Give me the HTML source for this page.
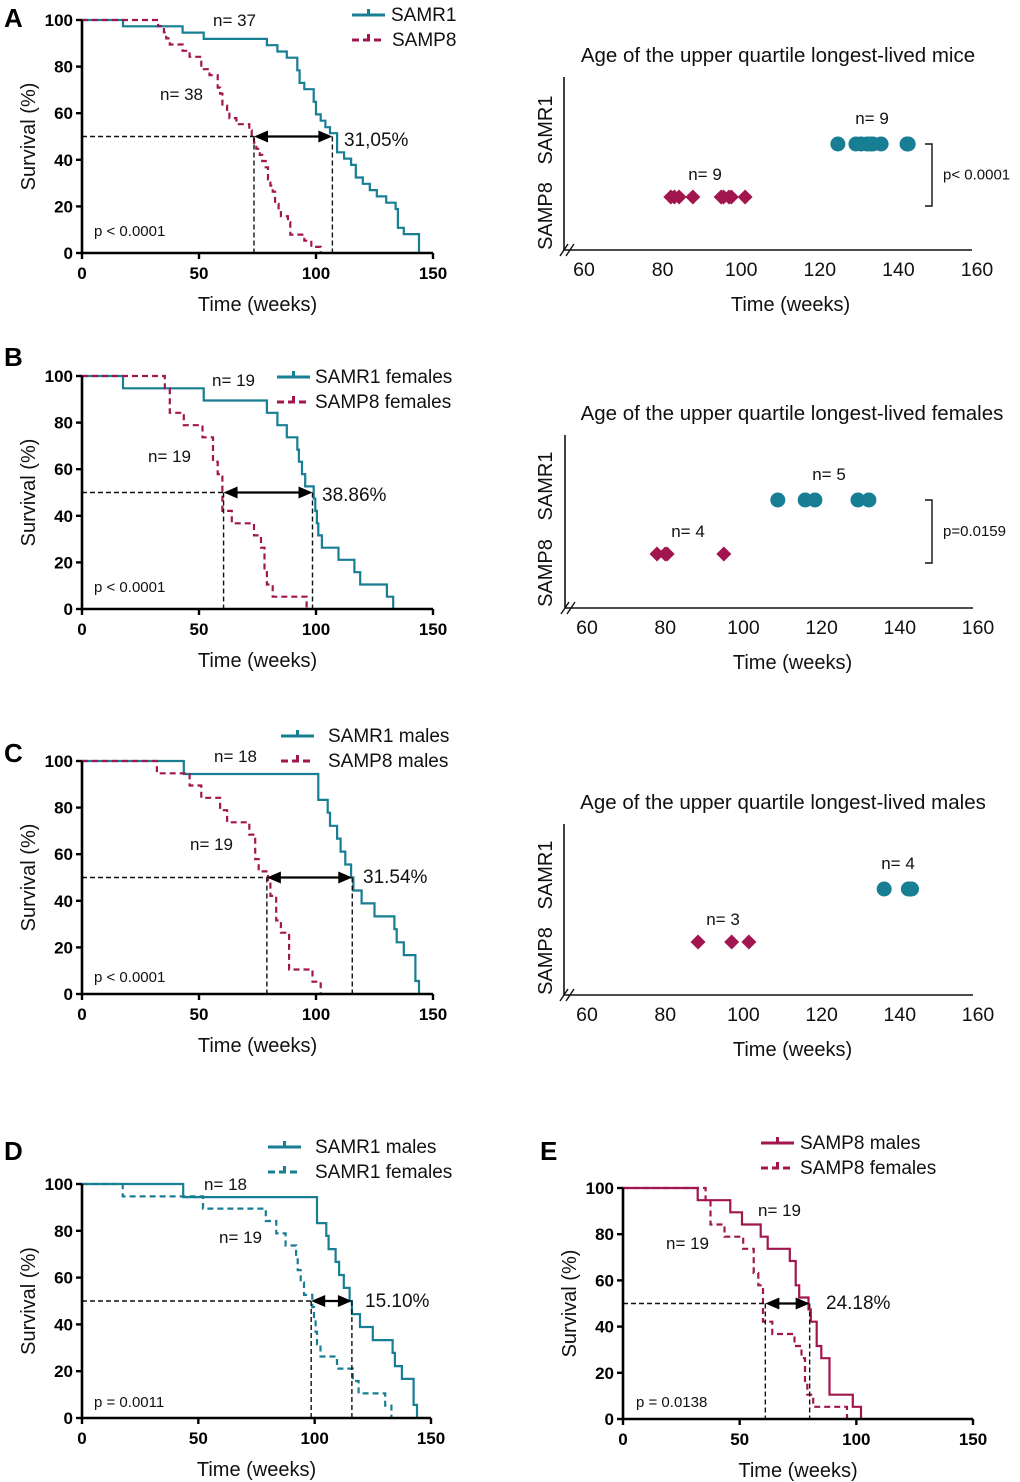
<!DOCTYPE html>
<html><head><meta charset="utf-8"><style>
html,body{margin:0;padding:0;background:#fff;}
svg{display:block;font-family:"Liberation Sans",Arial,sans-serif;}
</style></head><body>
<svg id="fig" width="1020" height="1482" viewBox="0 0 1020 1482" xmlns="http://www.w3.org/2000/svg"></svg>
<script>
// ---- data ----
const kmTicksX = [0, 50, 100, 150];
const kmTicksY = [0, 20, 40, 60, 80, 100];
const scTicksX = [60, 80, 100, 120, 140, 160];

const allR1Times = [17.5,43,52,79,83.5,87.5,92,93,95,99,100,102,104,106,109,112,115,117,120,123,126,130,134,135,137.5,144];
const allR1Surv  = [97.3,94.6,91.9,89.2,86.5,83.8,78.4,73,70.3,64.9,59.5,56.8,54,51.4,43.2,40.5,37.8,32.4,29.7,27,24.3,21.6,18.9,10.8,8.1,0];
const allP8Times = [32.5,35,36,37.5,43,46,51,54.5,58,59,60,62,63,66,71.5,72.5,73.5,74.5,76,77,78.5,79.5,80.5,81.5,82.5,84,85,88,89,95,98,102];
const allP8Surv  = [97.4,94.7,92.1,89.5,86.8,84.2,78.9,76.3,71,68.4,63.2,60.5,57.9,55.3,52.6,50,47.4,44.7,42.1,39.5,36.8,31.6,28.9,26.3,21.1,18.4,15.8,13.2,7.9,5.3,2.6,0];
const femR1Times = [17.5,52,79,83.5,87.5,92,92.7,94,95.4,99,99.7,100.4,101,102.5,109.6,116.4,118.9,130.3,133];
const femR1Surv  = [94.7,89.5,84.2,78.9,73.7,68.4,63.2,57.9,52.6,47.4,42.1,36.8,31.6,26.3,21.1,15.8,10.5,5.3,0];
const femP8Times = [35.4,37.5,43.5,51.5,56,58,60,64,73.5,76.5,78,79,81.5,96];
const femP8Surv  = [94.7,84.2,78.9,73.7,63.2,57.9,42.1,36.8,31.6,26.3,15.8,10.5,5.3,0];
const malR1Times = [43.5,101,105,106,109,110.5,112.5,115,116,119.5,125,133.5,134.5,137.5,142.5,144];
const malR1Surv  = [94.4,83.3,77.8,72.2,66.7,61.1,55.6,50,44.4,38.9,33.3,27.8,22.2,16.7,5.6,0];
const malP8Times = [32,46,51,59,62,71.5,74,75.5,79.5,80.5,83,85,88.5,98.5,102];
const malP8Surv  = [94.7,89.5,84.2,78.9,73.7,68.4,57.9,52.6,47.4,42.1,31.6,26.3,10.5,5.3,0];

const medianA = [73.5, 107];
const medianB = [60.5, 98.5];
const medianC = [79, 115.5];
const medianD = [98.5, 116];
const medianE = [61, 80];

const scAR1 = [124.6,129.2,130.5,132,132.8,133.5,135.6,142.2,142.5];
const scAP8 = [82.1,83,84.2,87.7,94.9,95.5,96.9,97.5,101];
const scBR1 = [108.8,115.8,118.3,129.3,132.1];
const scBP8 = [77.9,80,80.5,95];
const scCR1 = [136,142.2,142.6,143];
const scCP8 = [88.4,97,101.4];

const TEAL = "#177e94", MAG = "#a1164f";
const NS = "http://www.w3.org/2000/svg";
const fig = document.getElementById('fig');

function mk(tag, attrs, parent){
  const e = document.createElementNS(NS, tag);
  for (const k in attrs) e.setAttribute(k, attrs[k]);
  (parent||fig).appendChild(e);
  return e;
}
function txt(s, x, y, size, opts, parent){
  opts = opts||{};
  const t = mk('text', {x:x, y:y, 'font-size':size, fill:opts.fill||'#111', 'text-anchor':opts.anchor||'start', 'font-weight':opts.weight||'normal'}, parent);
  if (opts.rotate) t.setAttribute('transform', 'rotate(-90 '+x+' '+y+')');
  t.textContent = s;
  return t;
}

function kmPanel(c){
  const g = mk('g', {});
  
  
  const sx = v => c.x0 + (v/150)*(c.x150 - c.x0);
  const sy = v => c.y0 - (v/100)*(c.y0 - c.y100);
  const L = txt(c.letter, c.lx, c.ly, 26, {weight:'bold', fill:'#000'}, g);
  
  
  c.series.forEach(s => {
    let d = 'M'+sx(0)+','+sy(100);
    for (let i=0;i<s.t.length;i++){
      d += ' H'+sx(s.t[i]).toFixed(1)+' V'+sy(s.s[i]).toFixed(1);
    }
    const p = mk('path', {d:d, fill:'none', stroke:s.color, 'stroke-width':2.2, 'stroke-dasharray': s.dash ? '6,4' : 'none'}, g);
    
    
  });
  const m = c.median;
  const hl = mk('path', {d:'M'+sx(0)+','+sy(50)+' H'+sx(m[0])+' M'+sx(m[0])+','+sy(50)+' V'+sy(0)+' M'+sx(m[1])+','+sy(50)+' V'+sy(0), stroke:'#111', 'stroke-width':1.4, 'stroke-dasharray':'5,3', fill:'none'}, g);
  
  
  const ay = sy(50), ax1 = sx(m[0]), ax2 = sx(m[1]);
  const ar = mk('path', {d:'M'+(ax1+12)+','+ay+' H'+(ax2-12), stroke:'#000', 'stroke-width':2.2}, g);
  
  
  const ah1 = mk('path', {d:'M'+ax1+','+ay+' l14,-6 v12 z', fill:'#000'}, g);
  
  
  const ah2 = mk('path', {d:'M'+ax2+','+ay+' l-14,-6 v12 z', fill:'#000'}, g);
  
  
  const ax = mk('path', {d:'M'+sx(0)+','+sy(100)+' V'+sy(0)+' H'+sx(150), stroke:'#000', 'stroke-width':2.6, fill:'none'}, g);
  
  
  kmTicksX.forEach(v => {
    const tk = mk('line', {x1:sx(v), x2:sx(v), y1:sy(0), y2:sy(0)+6, stroke:'#000', 'stroke-width':2.4}, g);
    
    
    const tl = txt(String(v), sx(v), sy(0)+26, 17, {anchor:'middle', weight:'bold', fill:'#000'}, g);
    
    
  });
  kmTicksY.forEach(v => {
    const tk = mk('line', {x1:sx(0)-6, x2:sx(0), y1:sy(v), y2:sy(v), stroke:'#000', 'stroke-width':2.4}, g);
    
    
    const tl = txt(String(v), sx(0)-9, sy(v)+6, 17, {anchor:'end', weight:'bold', fill:'#000'}, g);
    
    
  });
  const xt = txt('Time (weeks)', (sx(0)+sx(150))/2, sy(0)+58, 20, {anchor:'middle'}, g);
  
  
  const yt = txt('Survival (%)', c.ytx, (sy(0)+sy(100))/2, 20, {anchor:'middle', rotate:true}, g);
  
  
  c.notes.forEach(n => {
    const t = txt(n.s, n.x, n.y, n.size||17, {}, g);
    
    
  });
  c.legend.forEach(l => {
    const ln = mk('path', {d:'M'+l.x+','+l.y+' h33 M'+(l.x+16.5)+','+l.y+' v-6', stroke:l.color, 'stroke-width':3, fill:'none', 'stroke-dasharray': l.dash ? '7,4' : 'none'}, g);
    
    
    const t = txt(l.s, l.tx, l.y+6, 19, {}, g);
    
    
  });
}

function scPanel(c){
  const g = mk('g', {});
  
  
  const sx = v => c.x60 + (v-60)*(c.x160 - c.x60)/100;
  const t = txt(c.title, c.titleX, c.titleY, 20.5, {anchor:'middle'}, g);
  
  
  const ax = mk('path', {d:'M'+c.axL+','+c.axT+' V'+c.axB+' H'+c.axR, stroke:'#111', 'stroke-width':1.6, fill:'none'}, g);
  
  
  const br = mk('path', {d:'M'+(c.axL-4)+','+(c.axB+6)+' l8,-12 M'+(c.axL+2)+','+(c.axB+6)+' l8,-12', stroke:'#111', 'stroke-width':1.4}, g);
  
  
  scTicksX.forEach(v => {
    const tl = txt(String(v), sx(v), c.axB+26, 19.5, {anchor:'middle'}, g);
    
    
  });
  const xt = txt('Time (weeks)', (sx(60)+sx(160))/2+10, c.axB+61, 20, {anchor:'middle'}, g);
  
  
  const y1 = txt('SAMR1', 552, c.rowR1-14, 20, {anchor:'middle', rotate:true}, g);
  
  
  const y2 = txt('SAMP8', 552, c.rowP8+19, 20, {anchor:'middle', rotate:true}, g);
  
  
  c.r1.forEach(v => {
    const p = mk('circle', {cx:sx(v), cy:c.rowR1, r:7.5, fill:TEAL}, g);
    
    
  });
  c.p8.forEach(v => {
    const x = sx(v), y = c.rowP8;
    const p = mk('path', {d:'M'+x+','+(y-7.5)+' L'+(x+7.5)+','+y+' L'+x+','+(y+7.5)+' L'+(x-7.5)+','+y+' Z', fill:MAG}, g);
    
    
  });
  const n1 = txt(c.nR1, c.nR1x, c.rowR1-20, 17, {anchor:'middle'}, g);
  
  
  const n2 = txt(c.nP8, c.nP8x, c.rowP8-17, 17, {anchor:'middle'}, g);
  
  
  if (c.p){
    const b = mk('path', {d:'M925,'+(c.rowR1)+' h7 V'+(c.rowP8+9)+' h-7', stroke:'#111', 'stroke-width':1.4, fill:'none'}, g);
    
    
    const pt = txt(c.p, 943, (c.rowR1+c.rowP8)/2+9, 15, {}, g);
    
    
  }
}

kmPanel({name:'panel-a-survival', letter:'A', lx:4, ly:27, x0:82, x150:433, y100:20, y0:253, ytx:35, median:medianA,
  series:[{id:'samr1', t:allR1Times, s:allR1Surv, color:TEAL, dash:false},{id:'samp8', t:allP8Times, s:allP8Surv, color:MAG, dash:true}],
  notes:[{s:'n= 37', x:213, y:26, name:'n-label-samr1'},{s:'n= 38', x:160, y:100, name:'n-label-samp8'},{s:'31,05%', x:344, y:146, size:19, name:'median-difference'},{s:'p < 0.0001', x:94, y:236, size:15, name:'p-value'}],
  legend:[{s:'SAMR1', x:352, tx:391, y:15, color:TEAL},{s:'SAMP8', x:352, tx:392, y:40, color:MAG, dash:true}]});
kmPanel({name:'panel-b-female-survival', letter:'B', lx:4, ly:366, x0:82, x150:433, y100:376, y0:609, ytx:35, median:medianB,
  series:[{id:'samr1-females', t:femR1Times, s:femR1Surv, color:TEAL},{id:'samp8-females', t:femP8Times, s:femP8Surv, color:MAG, dash:true}],
  notes:[{s:'n= 19', x:212, y:386, name:'n-label-samr1'},{s:'n= 19', x:148, y:462, name:'n-label-samp8'},{s:'38.86%', x:322, y:501, size:19, name:'median-difference'},{s:'p < 0.0001', x:94, y:592, size:15, name:'p-value'}],
  legend:[{s:'SAMR1 females', x:277, tx:315, y:377, color:TEAL},{s:'SAMP8 females', x:277, tx:315, y:402, color:MAG, dash:true}]});
kmPanel({name:'panel-c-male-survival', letter:'C', lx:4, ly:762, x0:82, x150:433, y100:761, y0:994, ytx:35, median:medianC,
  series:[{id:'samr1-males', t:malR1Times, s:malR1Surv, color:TEAL},{id:'samp8-males', t:malP8Times, s:malP8Surv, color:MAG, dash:true}],
  notes:[{s:'n= 18', x:214, y:762, name:'n-label-samr1'},{s:'n= 19', x:190, y:850, name:'n-label-samp8'},{s:'31.54%', x:363, y:883, size:19, name:'median-difference'},{s:'p < 0.0001', x:94, y:982, size:15, name:'p-value'}],
  legend:[{s:'SAMR1 males', x:281, tx:328, y:736, color:TEAL},{s:'SAMP8 males', x:281, tx:328, y:761, color:MAG, dash:true}]});
kmPanel({name:'panel-d-samr1-sex', letter:'D', lx:4, ly:1160, x0:82, x150:431, y100:1184, y0:1418, ytx:35, median:medianD,
  series:[{id:'samr1-males', t:malR1Times, s:malR1Surv, color:TEAL},{id:'samr1-females', t:femR1Times, s:femR1Surv, color:TEAL, dash:true}],
  notes:[{s:'n= 18', x:204, y:1190, name:'n-label-males'},{s:'n= 19', x:219, y:1243, name:'n-label-females'},{s:'15.10%', x:365, y:1307, size:19, name:'median-difference'},{s:'p = 0.0011', x:94, y:1407, size:15, name:'p-value'}],
  legend:[{s:'SAMR1 males', x:268, tx:315, y:1147, color:TEAL},{s:'SAMR1 females', x:268, tx:315, y:1172, color:TEAL, dash:true}]});
kmPanel({name:'panel-e-samp8-sex', letter:'E', lx:540, ly:1160, x0:623, x150:973, y100:1188, y0:1419, ytx:576, median:medianE,
  series:[{id:'samp8-males', t:malP8Times, s:malP8Surv, color:MAG},{id:'samp8-females', t:femP8Times, s:femP8Surv, color:MAG, dash:true}],
  notes:[{s:'n= 19', x:758, y:1216, name:'n-label-males'},{s:'n= 19', x:666, y:1249, name:'n-label-females'},{s:'24.18%', x:826, y:1309, size:19, name:'median-difference'},{s:'p = 0.0138', x:636, y:1407, size:15, name:'p-value'}],
  legend:[{s:'SAMP8 males', x:761, tx:800, y:1143, color:MAG},{s:'SAMP8 females', x:761, tx:800, y:1168, color:MAG, dash:true}]});

scPanel({name:'panel-a-upper-quartile', title:'Age of the upper quartile longest-lived mice', titleX:778, titleY:62, axL:564, axR:972, axT:77, axB:250, x60:584, x160:977, rowR1:144, rowP8:197, r1:scAR1, p8:scAP8, nR1:'n= 9', nR1x:872, nP8:'n= 9', nP8x:705, p:'p< 0.0001'});
scPanel({name:'panel-b-upper-quartile', title:'Age of the upper quartile longest-lived females', titleX:792, titleY:420, axL:565, axR:973, axT:435, axB:608, x60:587, x160:978, rowR1:500, rowP8:554, r1:scBR1, p8:scBP8, nR1:'n= 5', nR1x:829, nP8:'n= 4', nP8x:688, p:'p=0.0159'});
scPanel({name:'panel-c-upper-quartile', title:'Age of the upper quartile longest-lived males', titleX:783, titleY:809, axL:564, axR:973, axT:824, axB:995, x60:587, x160:978, rowR1:889, rowP8:942, r1:scCR1, p8:scCP8, nR1:'n= 4', nR1x:898, nP8:'n= 3', nP8x:723, p:null});
</script>
</body></html>
